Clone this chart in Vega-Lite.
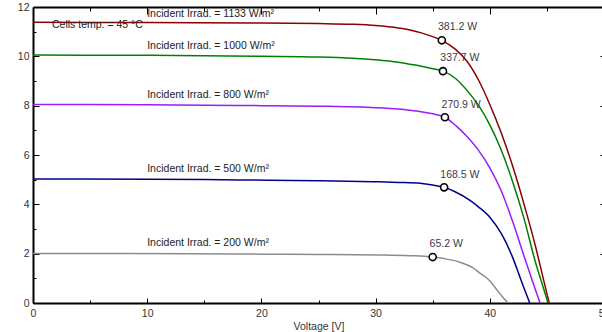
{
  "$schema": "https://vega.github.io/schema/vega-lite/v6.json",
  "width": 571,
  "height": 296,
  "autosize": {"type": "none"},
  "padding": {"left": 33, "top": 7, "right": 0, "bottom": 29},
  "background": "white",
  "config": {"view": {"stroke": null}, "font": "Liberation Sans"},
  "datasets": {
    "curves": [
      {"s":"1133","v":0,"i":11.38},{"s":"1133","v":10,"i":11.37},{"s":"1133","v":20,"i":11.35},{"s":"1133","v":25,"i":11.33},{"s":"1133","v":28,"i":11.3},{"s":"1133","v":30,"i":11.25},{"s":"1133","v":32,"i":11.15},{"s":"1133","v":33,"i":11.07},{"s":"1133","v":34,"i":10.95},{"s":"1133","v":35,"i":10.8},{"s":"1133","v":35.8,"i":10.65},{"s":"1133","v":37,"i":10.28},{"s":"1133","v":38,"i":9.8},{"s":"1133","v":39,"i":9.05},{"s":"1133","v":40,"i":8.05},{"s":"1133","v":41,"i":6.9},{"s":"1133","v":42,"i":5.55},{"s":"1133","v":43,"i":4.0},{"s":"1133","v":44,"i":2.3},{"s":"1133","v":44.6,"i":1.15},{"s":"1133","v":45.2,"i":0},
      {"s":"1000","v":0,"i":10.05},{"s":"1000","v":10,"i":10.04},{"s":"1000","v":20,"i":10.0},{"s":"1000","v":25,"i":9.97},{"s":"1000","v":28,"i":9.92},{"s":"1000","v":30,"i":9.86},{"s":"1000","v":32,"i":9.76},{"s":"1000","v":33,"i":9.68},{"s":"1000","v":34,"i":9.6},{"s":"1000","v":35,"i":9.5},{"s":"1000","v":35.9,"i":9.4},{"s":"1000","v":37,"i":9.1},{"s":"1000","v":38,"i":8.62},{"s":"1000","v":39,"i":8.02},{"s":"1000","v":40,"i":7.22},{"s":"1000","v":41,"i":6.2},{"s":"1000","v":42,"i":4.92},{"s":"1000","v":43,"i":3.42},{"s":"1000","v":44,"i":1.65},{"s":"1000","v":44.6,"i":0.75},{"s":"1000","v":45.1,"i":0},
      {"s":"800","v":0,"i":8.05},{"s":"800","v":10,"i":8.04},{"s":"800","v":20,"i":8.0},{"s":"800","v":25,"i":7.98},{"s":"800","v":30,"i":7.92},{"s":"800","v":32,"i":7.86},{"s":"800","v":33,"i":7.81},{"s":"800","v":34,"i":7.75},{"s":"800","v":35,"i":7.67},{"s":"800","v":36.07,"i":7.53},{"s":"800","v":37,"i":7.2},{"s":"800","v":38,"i":6.75},{"s":"800","v":39,"i":6.2},{"s":"800","v":40,"i":5.48},{"s":"800","v":41,"i":4.55},{"s":"800","v":42,"i":3.3},{"s":"800","v":43,"i":1.9},{"s":"800","v":43.8,"i":0.8},{"s":"800","v":44.4,"i":0},
      {"s":"500","v":0,"i":5.03},{"s":"500","v":10,"i":5.02},{"s":"500","v":18,"i":4.99},{"s":"500","v":25,"i":4.96},{"s":"500","v":29.8,"i":4.92},{"s":"500","v":32,"i":4.89},{"s":"500","v":33.9,"i":4.85},{"s":"500","v":35,"i":4.78},{"s":"500","v":36,"i":4.69},{"s":"500","v":37,"i":4.5},{"s":"500","v":38.2,"i":4.18},{"s":"500","v":39,"i":3.9},{"s":"500","v":40,"i":3.48},{"s":"500","v":41,"i":2.82},{"s":"500","v":42,"i":1.85},{"s":"500","v":42.6,"i":1.1},{"s":"500","v":43,"i":0.6},{"s":"500","v":43.5,"i":0},
      {"s":"200","v":0,"i":2.01},{"s":"200","v":14,"i":2.0},{"s":"200","v":20,"i":1.98},{"s":"200","v":25,"i":1.97},{"s":"200","v":30.4,"i":1.95},{"s":"200","v":33,"i":1.92},{"s":"200","v":35,"i":1.863},{"s":"200","v":36,"i":1.8},{"s":"200","v":37.4,"i":1.65},{"s":"200","v":38.5,"i":1.43},{"s":"200","v":39.1,"i":1.22},{"s":"200","v":40,"i":0.9},{"s":"200","v":40.6,"i":0.55},{"s":"200","v":41.2,"i":0.2},{"s":"200","v":41.6,"i":0}
    ],
    "mpp": [
      {"s":"1133","v":35.8,"i":10.65,"lab":"381.2 W","lv":35.46,"li":11.18},
      {"s":"1000","v":35.9,"i":9.4,"lab":"337.7 W","lv":35.67,"li":9.92},
      {"s":"800","v":36.07,"i":7.53,"lab":"270.9 W","lv":35.78,"li":8.03},
      {"s":"500","v":36.0,"i":4.69,"lab":"168.5 W","lv":35.67,"li":5.19},
      {"s":"200","v":35.0,"i":1.863,"lab":"65.2 W","lv":34.73,"li":2.38}
    ],
    "labels": [
      {"t":"Incident Irrad. = 1133 W/m²","v":10.0,"i":11.72},
      {"t":"Incident Irrad. = 1000 W/m²","v":10.0,"i":10.42},
      {"t":"Incident Irrad. = 800 W/m²","v":10.0,"i":8.43},
      {"t":"Incident Irrad. = 500 W/m²","v":10.0,"i":5.42},
      {"t":"Incident Irrad. = 200 W/m²","v":10.0,"i":2.42},
      {"t":"Cells temp. = 45 °C","v":1.66,"i":11.27}
    ]
  },
  "layer": [
    {
      "data": {"name": "curves"},
      "mark": {"type": "line", "strokeWidth": 1.5, "clip": true, "interpolate": "monotone"},
      "encoding": {
        "x": {"field": "v", "type": "quantitative",
          "scale": {"domain": [0, 50], "nice": false, "zero": true},
          "axis": {"orient": "bottom", "values": [0,5,10,15,20,25,30,35,40,45,50],
            "labelExpr": "datum.value % 10 === 0 ? datum.label : ''",
            "tickSize": {"condition": {"test": "datum.value % 10 === 0", "value": -5}, "value": -3},
            "tickColor": "#000", "tickWidth": 1, "domainColor": "#000", "domainWidth": 2,
            "labelPadding": 10, "labelColor": "#333", "labelFontSize": 10.5, "labelFlush": false,
            "grid": false, "title": "Voltage [V]", "titleFontWeight": "normal", "titleFontSize": 10.5,
            "titleColor": "#333", "titlePadding": 3}},
        "y": {"field": "i", "type": "quantitative",
          "scale": {"domain": [0, 12], "nice": false, "zero": true},
          "axis": {"orient": "left", "values": [0,1,2,3,4,5,6,7,8,9,10,11,12],
            "labelExpr": "datum.value % 2 === 0 ? datum.label : ''",
            "tickSize": {"condition": {"test": "datum.value % 2 === 0", "value": -6}, "value": -3},
            "tickColor": "#000", "tickWidth": 1, "domainColor": "#000", "domainWidth": 2,
            "labelPadding": 10, "labelColor": "#333", "labelFontSize": 10.5, "labelFlush": false,
            "grid": false, "title": null}},
        "color": {"field": "s", "type": "nominal", "legend": null,
          "scale": {"domain": ["1133","1000","800","500","200"],
            "range": ["#8b0000","#008000","#9b1cff","#00008b","#8c8c8c"]}}
      }
    },
    {
      "data": {"name": "mpp"},
      "mark": {"type": "point", "shape": "circle", "size": 50, "filled": false, "fill": "white", "fillOpacity": 1, "stroke": "#000", "strokeWidth": 1.6},
      "encoding": {
        "x": {"field": "v", "type": "quantitative",
          "axis": {"orient": "top", "values": [0,5,10,15,20,25,30,35,40,45,50], "labels": false,
            "tickSize": {"condition": {"test": "datum.value % 10 === 0", "value": -7}, "value": -4},
            "tickColor": "#000", "domainColor": "#000", "domainWidth": 2, "grid": false, "title": null}},
        "y": {"field": "i", "type": "quantitative",
          "axis": {"orient": "right", "values": [2,4,6,8,10], "labels": false,
            "tickSize": -4, "tickColor": "#000", "domainColor": "#000", "domainWidth": 2, "grid": false, "title": null}}
      }
    },
    {
      "data": {"name": "mpp"},
      "mark": {"type": "text", "align": "left", "baseline": "middle", "fontSize": 10.5, "color": "#3c3c4c"},
      "encoding": {
        "x": {"field": "lv", "type": "quantitative", "axis": null},
        "y": {"field": "li", "type": "quantitative", "axis": null},
        "text": {"field": "lab"}
      }
    },
    {
      "data": {"name": "labels"},
      "mark": {"type": "text", "align": "left", "baseline": "middle", "fontSize": 10.5, "color": "#222"},
      "encoding": {
        "x": {"field": "v", "type": "quantitative", "axis": null},
        "y": {"field": "i", "type": "quantitative", "axis": null},
        "text": {"field": "t"}
      }
    }
  ],
  "resolve": {"axis": {"x": "independent", "y": "independent"}}
}
